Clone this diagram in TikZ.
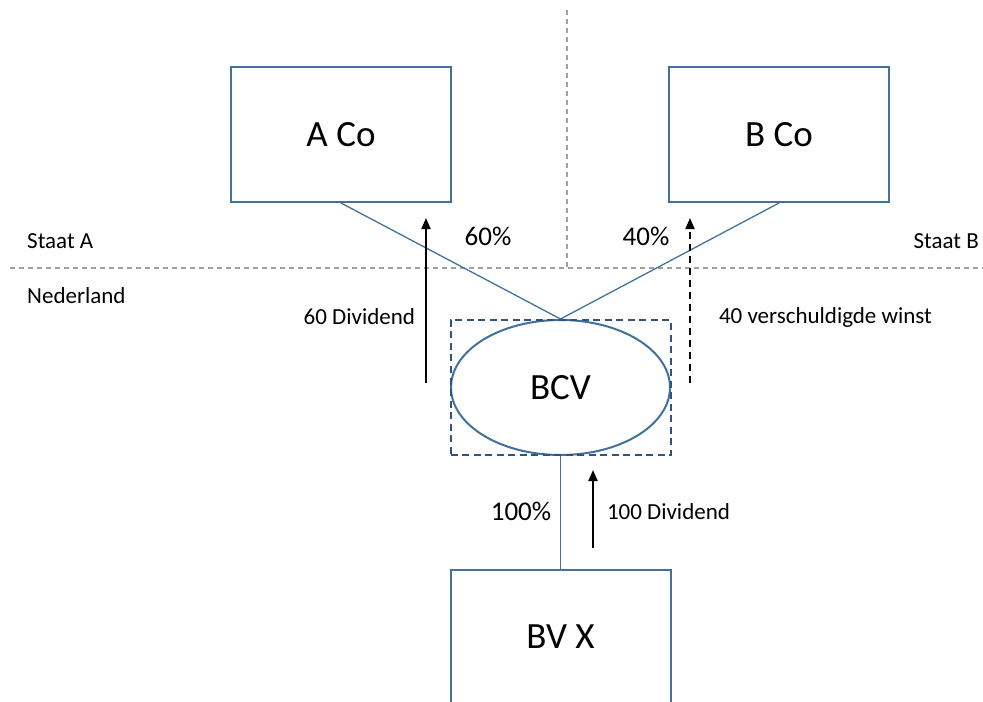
\documentclass[tikz,border=0pt]{standalone}
\usepackage{xcolor}
\usepackage{fontspec}
\setmainfont{Carlito}
\usepackage{tikz}
\usetikzlibrary{shapes.geometric,arrows.meta,positioning}

\definecolor{boxblue}{RGB}{65,113,156}
\definecolor{randblue}{RGB}{47,84,128}
\definecolor{grensgrey}{RGB}{160,160,160}

\tikzset{
  firma/.style={draw=boxblue, line width=2bp, rectangle, minimum width=220bp, minimum height=135bp, inner sep=0pt, font=\fontsize{37bp}{44bp}\selectfont},
  link/.style={-, draw=boxblue, line width=1.3bp},
  geld/.style={->, line width=2bp, black},
  grens/.style={-, draw=grensgrey, line width=1.2bp, dash pattern=on 5bp off 4bp},
  klein/.style={inner sep=0pt, font=\fontsize{23bp}{28bp}\selectfont},
  procent/.style={inner sep=0pt, font=\fontsize{27bp}{32bp}\selectfont}
}

\begin{document}
\begin{tikzpicture}[x=1bp,y=-1bp,>={Triangle[length=11bp,width=9bp]},node distance=250bp,on grid,auto]
    \useasboundingbox (0,0) rectangle (983,702);
    %% node
    \node (BCV) [ellipse, draw=boxblue, line width=2bp, minimum width=219bp, minimum height=135bp, inner sep=0pt,
      font=\fontsize{37bp}{44bp}\selectfont] at (560.5,387.5) {BCV};
    \node (BCVrand) [draw=randblue, line width=2bp, dash pattern=on 7bp off 4.5bp, minimum width=220bp, minimum height=135bp] at (BCV) {}; % transparant
    \node (ACo) [firma, above left=253bp and 219.5bp of BCV] {A Co};
    \node (BCo) [firma, above right=253bp and 218.5bp of BCV] {B Co};
    \node (BVX) [firma, below=249.5bp of BCV] {BV X};
    % landen
    \node (staatA) [klein, anchor=west] at (27,241) {Staat A};
    \node (staatB) [klein, anchor=east] at (979,241) {Staat B};
    \node (nl) [klein, anchor=west] at (27,296) {Nederland};
    \node (pA) [procent] at (488,236) {60\%};
    \node (pB) [procent] at (646,236) {40\%};
    \node (pX) [procent] at (521,511) {100\%};
    \coordinate (grensW) at (10,268);
    \coordinate (grensO) at (983,268);
    \coordinate (grensN) at (567,10);
    \coordinate (grensZ) at (567,268);
    \coordinate (divA0) at (426,383);
    \coordinate (divA1) at (426,218);
    \coordinate (winstB0) at (690,383);
    \coordinate (winstB1) at (690,218);
    \coordinate (divX0) at (593,548);
    \coordinate (divX1) at (593,470);
    %% path
    \draw[grens] (grensW) -- (grensO);
    \draw[grens] (grensN) -- (grensZ);
    \path (ACo.south) edge[link] (BCV.north)
      (BCo.south) edge[link] (BCV.north)
      (BCV.south) edge[link] (BVX.north);
    \draw[geld] (divA0) -- node[klein, left=10bp, pos=0.4] {60 Dividend} (divA1);
    \draw[geld, dash pattern=on 7bp off 5bp] (winstB0) -- node[klein, right=28bp, pos=0.4] {40 verschuldigde winst} (winstB1);
    \draw[geld] (divX0) -- node[klein, right=13bp, pos=0.47] {100 Dividend} (divX1);
\end{tikzpicture}
\end{document}
